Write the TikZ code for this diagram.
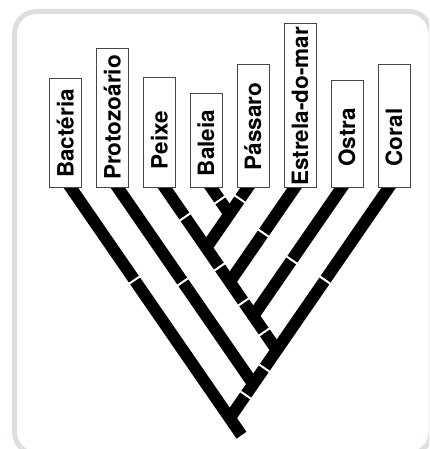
\documentclass[tikz,border=0pt]{standalone}
\usepackage{fontspec}
\setmainfont{TeX Gyre Heros}
\usetikzlibrary{calc}
\definecolor{framegray}{RGB}{221,222,224}
\definecolor{boxline}{RGB}{70,70,70}
\begin{document}
\begin{tikzpicture}[x=1pt,y=-1pt,
  bar/.style={line width=12pt,black,line cap=butt},
  cutR/.style={rectangle,fill=white,draw=none,minimum width=17pt,minimum height=2pt,inner sep=0pt,rotate=34.6},
  cutL/.style={rectangle,fill=white,draw=none,minimum width=17pt,minimum height=2pt,inner sep=0pt,rotate=-34.6},
  leafbox/.style={rectangle,draw=boxline,fill=white,line width=0.8pt,rotate=90,anchor=west,minimum height=32pt,inner sep=0pt},
  leaflabel/.style={rotate=90,inner sep=0pt,text height=16pt,text depth=0pt,font=\bfseries\fontsize{22.5}{24}\selectfont}
]
\useasboundingbox (0,0) rectangle (429,449);
\begin{scope}
  \clip (0,0) rectangle (429,449);
  \draw[framegray,line width=5pt,rounded corners=22pt] (14.5,11.5) rectangle (431,454);
\end{scope}

% line starts (hidden inside boxes) and direction points
\foreach \n/\x in {Bac/65.5,Pro/112.5,Pei/159.5,Bal/206}{
  \coordinate (s\n) at (\x,180);
  \coordinate (d\n) at (\x+100,325);
}
\foreach \n/\x in {Pas/253,Est/300,Ost/347,Cor/394}{
  \coordinate (s\n) at (\x,180);
  \coordinate (d\n) at (\x-100,325);
}
% internal nodes
\coordinate (N6) at (intersection of sBal--dBal and sPas--dPas);
\coordinate (N5) at (intersection of sPas--dPas and sPei--dPei);
\coordinate (N4) at (intersection of sEst--dEst and sPei--dPei);
\coordinate (N3) at (intersection of sOst--dOst and sPei--dPei);
\coordinate (N2) at (intersection of sCor--dCor and sPei--dPei);
\coordinate (N1) at (intersection of sPro--dPro and sCor--dCor);
\coordinate (N0) at (intersection of sBac--dBac and sCor--dCor);
\coordinate (R) at ($(sBac)!1.76!(dBac)$);

% branches
\draw[bar] (sBal) -- (N6);
\draw[bar] (sPas) -- (N5);
\draw[bar] (sPei) -- (N2);
\draw[bar] (sEst) -- (N4);
\draw[bar] (sOst) -- (N3);
\draw[bar] (sCor) -- (N0);
\draw[bar] (sPro) -- (N1);
\draw[bar] (sBac) -- (R);

% character marks
\node[cutR] (k1) at ($(sBac)!0.690!(dBac)$) {};
\node[cutR] (k2) at ($(sPro)!0.703!(dPro)$) {};
\node[cutR] (k3) at ($(sPei)!0.255!(dPei)$) {};
\node[cutR] (k4) at ($(sBal)!0.138!(dBal)$) {};
\node[cutL] (k5) at ($(sPas)!0.131!(dPas)$) {};
\node[cutL] (k6) at ($(sEst)!0.366!(dEst)$) {};
\node[cutR] (k7) at ($(sPei)!0.600!(dPei)$) {};
\node[cutR] (k8) at ($(sPei)!0.841!(dPei)$) {};
\node[cutR] (k9) at ($(sPei)!1.048!(dPei)$) {};
\node[cutL] (k10) at ($(sOst)!0.552!(dOst)$) {};
\node[cutL] (k11) at ($(sCor)!0.690!(dCor)$) {};
\node[cutL] (k12) at ($(sCor)!1.297!(dCor)$) {};
\node[cutL] (k13) at ($(sCor)!1.483!(dCor)$) {};

% leaf boxes
\node[leafbox,minimum width=109pt] (bBac) at (65.5,188) {};
\node[leafbox,minimum width=139pt] (bPro) at (112.5,188) {};
\node[leafbox,minimum width=110pt] (bPei) at (159.5,188) {};
\node[leafbox,minimum width=94pt]  (bBal) at (206,188) {};
\node[leafbox,minimum width=123pt] (bPas) at (253,188) {};
\node[leafbox,minimum width=164pt] (bEst) at (300,188) {};
\node[leafbox,minimum width=107pt] (bOst) at (347,188) {};
\node[leafbox,minimum width=123pt] (bCor) at (394,188) {};

% labels
\node[leaflabel] (tBac) at (65.5,133.5) {Bactéria};
\node[leaflabel] (tPro) at (112.5,117.5) {Protozoário};
\node[leaflabel] (tPei) at (159.5,140) {Peixe};
\node[leaflabel] (tBal) at (206,143) {Baleia};
\node[leaflabel] (tPas) at (253,126.5) {Pássaro};
\node[leaflabel] (tEst) at (300,106.5) {Estrela-do-mar};
\node[leaflabel] (tOst) at (347,137.5) {Ostra};
\node[leaflabel] (tCor) at (394,137.5) {Coral};
\end{tikzpicture}
\end{document}
